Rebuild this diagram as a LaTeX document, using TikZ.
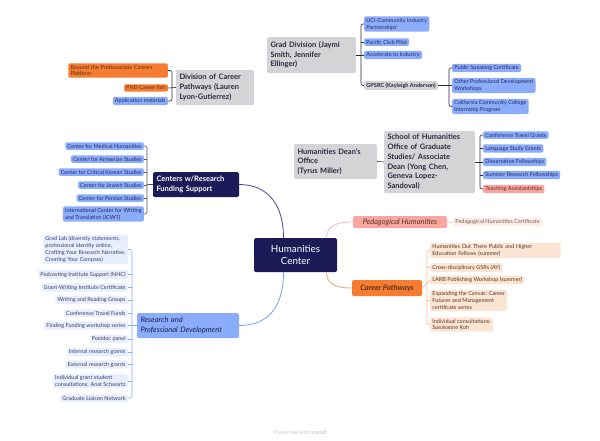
\documentclass[tikz,border=0pt]{standalone}
\usepackage{fontspec}
\setmainfont{Lato}
\usetikzlibrary{calc}
\definecolor{hcnavy}{RGB}{28,27,88}
\definecolor{hcink}{RGB}{34,40,100}
\definecolor{hcdark}{RGB}{40,40,62}
\definecolor{hcblue}{RGB}{139,172,250}
\definecolor{hcpale}{RGB}{232,238,252}
\definecolor{hcgrey}{RGB}{212,212,214}
\definecolor{hcorange}{RGB}{245,124,48}
\definecolor{hcpink}{RGB}{249,165,160}
\definecolor{hcblush}{RGB}{253,236,234}
\definecolor{hcpeach}{RGB}{253,229,214}
\definecolor{hcbrown}{RGB}{90,50,30}
\newcommand\smallf{\fontsize{5.5}{6.9}\selectfont}
\newcommand\headf{\fontsize{7.5}{9.7}\selectfont\bfseries}
\newcommand\hubf{\fontsize{9.8}{12.5}\selectfont}

\begin{document}
\begin{tikzpicture}[x=1pt,y=-1pt,
  every node/.style={font=\smallf,text=hcink,rounded corners=1.5pt,inner xsep=2.2pt,inner ysep=1.7pt,align=left},
  hub/.style={fill=hcnavy,text=white,font=\hubf,align=center,minimum width=83pt,minimum height=34pt},
  main/.style={fill=hcnavy,text=white,font=\headf,inner xsep=3.5pt,minimum height=25pt},
  grey/.style={fill=hcgrey,text=hcdark,font=\headf,inner xsep=3.5pt},
  blu/.style={fill=hcblue},
  pale/.style={fill=hcpale,text=hcink!75!gray},
  org/.style={fill=hcorange,text=hcbrown},
  pnk/.style={fill=hcpink,text=hcbrown},
  blush/.style={fill=hcblush,text=hcbrown!80},
  peach/.style={fill=hcpeach,text=hcbrown},
  brk/.style={line width=0.6pt,rounded corners=2pt},
  curve/.style={line width=0.8pt}]
\useasboundingbox (0,0) rectangle (600,440);

% central topic and its branches
\node[hub] (hc) at (295.5,255) {Humanities\\Center};
\node[main,text width=79pt] (crf) at (196,184.5) {Centers w/Research\\Funding Support};
\node[fill=hcblue,text=hcnavy,font=\headf\mdseries\itshape,inner xsep=3.5pt,minimum height=25pt,text width=95pt] (rpd) at (188,325.5) {Research and\\Professional Development};
\node[pnk,font=\headf\mdseries\itshape,inner xsep=3pt,minimum height=12pt,minimum width=94pt,align=center] (ph) at (400,222) {Pedagogical Humanities};
\node[org,font=\headf\itshape,inner xsep=3pt,minimum height=16pt,minimum width=70pt,align=center] (cp) at (387,288) {Career Pathways};

\draw[curve,hcnavy!70!blue!80] ($(hc.north)+(-12,0)$) .. controls +(0,-34) and +(28,0) .. (crf.east);
\draw[curve,hcblue!90!blue] ($(hc.south)+(-12,0)$) .. controls +(0,36) and +(28,0) .. (rpd.east);
\draw[curve,hcpink!80] ($(hc.north)+(31,0)$) .. controls +(0,-13) and +(-14,0) .. (ph.west);
\draw[curve,hcorange!60!brown!70] ($(hc.south)+(31,0)$) .. controls +(0,13) and +(-14,0) .. (cp.west);

% centers
\node[blu,anchor=east] (cmh) at (144,146) {Center for Medical Humanities};
\node[blu,anchor=east] (cas) at (144,159) {Center for Armenian Studies};
\node[blu,anchor=east] (cck) at (144,172) {Center for Critical Korean Studies};
\node[blu,anchor=east] (cjs) at (144,185) {Center for Jewish Studies};
\node[blu,anchor=east] (cps) at (144,198) {Center for Persian Studies};
\node[blu,anchor=east] (icwt) at (144,214) {International Center for Writing\\and Translation (ICWT)};
\draw[brk,hcdark!80] (cmh.east) -- ++(3,0) |- (icwt.east);
\foreach \n in {cas,cck,cjs,cps} \draw[brk,hcdark!80] (\n.east) -- ++(3,0);
\draw[brk,hcdark!80] (crf.west) -- ++(-6,0);

% research and professional development
\node[pale,anchor=east] (glab) at (128,249.5) {Grad Lab (diversity statements,\\professional identity online,\\Crafting Your Research Narrative,\\Creating Your Compass)};
\node[pale,anchor=east] (pod) at (128,274.5) {Podcasting Institute Support (NHC)};
\node[pale,anchor=east] (gwi) at (128,287.5) {Grant-Writing Institute Certificate};
\node[pale,anchor=east] (wrg) at (128,300) {Writing and Reading Groups};
\node[pale,anchor=east] (ctf) at (128,313) {Conference Travel Funds};
\node[pale,anchor=east] (ffw) at (128,325.5) {Finding Funding workshop series};
\node[pale,anchor=east] (pdp) at (128,339) {Postdoc panel};
\node[pale,anchor=east] (irg) at (128,352) {Internal research grants};
\node[pale,anchor=east] (erg) at (128,364.5) {External research grants};
\node[pale,anchor=east] (igs) at (128,381) {Individual grant student\\consultations: Anat Schwartz};
\node[pale,anchor=east] (gln) at (128,398) {Graduate Liaison Network};
\draw[brk,hcblue] (glab.east) -- ++(4,0) |- (gln.east);
\foreach \n in {pod,gwi,wrg,ctf,ffw,pdp,irg,erg,igs} \draw[brk,hcblue] (\n.east) -- ++(4,0);
\draw[brk,hcblue] (rpd.west) -- ++(-5,0);

% division of career pathways
\node[grey,text width=71pt,minimum height=35pt] (dcp) at (215,87.5) {Division of Career\\Pathways (Lauren\\Lyon-Gutierrez)};
\node[org,anchor=east,text width=95pt] (bpc) at (168,70.5) {Beyond the Professoriate Careers\\Platform};
\node[org,anchor=east] (pcf) at (168,88) {PHD Career Fair};
\node[blu,anchor=east] (apm) at (168,101) {Application materials};
\draw[brk,hcdark] (bpc.east) -- ++(4,0) |- (apm.east);
\draw[brk,hcdark] (pcf.east) -- (dcp.west);

% grad division
\node[grey,text width=82pt,minimum height=36pt] (gd) at (311.5,55) {Grad Division (Jaymi\\Smith, Jennifer\\Ellinger)};
\node[blu,anchor=west] (uci) at (364,24) {UCI-Community Industry\\Partnerships'};
\node[blu,anchor=west] (pcp) at (364,42) {Pacific Club Pilot};
\node[blu,anchor=west] (ati) at (364,55) {Accelerate to Industry};
\node[fill=hcgrey,text=hcdark,font=\fontsize{5.6}{6.9}\selectfont\bfseries,anchor=west] (gpsrc) at (364,85.5) {GPSRC (Kayleigh Anderson)};
\draw[brk,hcdark] (uci.west) -- ++(-3,0) |- (gpsrc.west);
\foreach \n in {pcp,ati} \draw[brk,hcdark] (\n.west) -- ++(-3,0);
\draw[brk,hcdark] (gd.east) -- ++(5,0);

\node[blu,anchor=west] (psc) at (452,68) {Public Speaking Certificate};
\node[blu,anchor=west] (opd) at (452,85.5) {Other Professional Development\\Workshops};
\node[blu,anchor=west] (ccc) at (452,106.5) {California Community College\\Internship Program};
\draw[brk,hcdark] (psc.west) -- ++(-3,0) |- (ccc.west);
\draw[brk,hcdark] (gpsrc.east) -- (opd.west);

% dean's office
\node[grey,text width=76pt,minimum height=35pt] (hdo) at (335.5,161.5) {Humanities Dean's\\Office\\(Tyrus Miller)};
\node[grey,text width=84pt,minimum height=62pt] (sho) at (429.5,162) {School of Humanities\\Office of Graduate\\Studies/ Associate\\Dean (Yong Chen,\\Geneva Lopez-\\Sandoval)};
\draw[brk,hcdark] (hdo.east) -- (sho.west);
\node[blu,anchor=west] (ctg) at (483,135) {Conference Travel Grants};
\node[blu,anchor=west] (lsg) at (483,148.5) {Language Study Grants};
\node[blu,anchor=west] (dsf) at (483,162) {Dissertation Fellowships};
\node[blu,anchor=west] (srf) at (483,175) {Summer Research Fellowships};
\node[pnk,anchor=west] (tas) at (483,189) {Teaching Assistantships};
\draw[brk,hcdark] (ctg.west) -- ++(-3,0) |- (tas.west);
\foreach \n in {lsg,srf} \draw[brk,hcdark] (\n.west) -- ++(-3,0);
\draw[brk,hcdark] (sho.east) -- (dsf.west);

% pedagogical humanities
\node[blush,anchor=west] (phc) at (453,222) {Pedagogical Humanities Certificate};
\draw[brk,hcpink!60] (ph.east) -- (phc.west);

% career pathways
\node[peach,anchor=west,text width=126pt] (hot) at (430,250.5) {Humanities Out There Public and Higher\\Education Fellows (summer)};
\node[peach,anchor=west] (cdg) at (430,267.5) {Cross-disciplinary GSRs (AY)};
\node[peach,anchor=west] (lpw) at (430,280) {LARB Publishing Workshop (summer)};
\node[peach,anchor=west] (etc) at (430,300.5) {Expanding the Canvas: Career\\Futures and Management\\certificate series};
\node[peach,anchor=west] (ick) at (430,324.5) {Individual consultations:\\SueJeanne Koh};
\draw[brk,hcorange!50] (hot.west) -- ++(-3,0) |- (ick.west);
\foreach \n in {cdg,etc} \draw[brk,hcorange!50] (\n.west) -- ++(-3,0);
\draw[brk,hcorange!50] (cp.east) -- (lpw.west);

\node[font=\fontsize{5.4}{6}\selectfont,text=gray!45,rounded corners=0pt] (pw) at (300,433) {Presented with \textbf{xmind}};
\end{tikzpicture}
\end{document}
